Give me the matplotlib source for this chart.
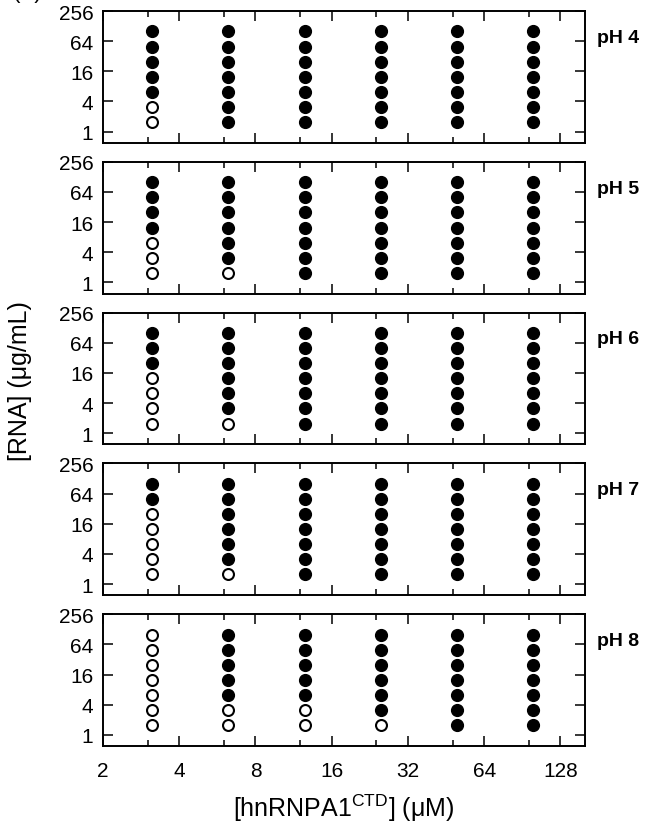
import numpy as np
import matplotlib
matplotlib.use("Agg")
import matplotlib.pyplot as plt
from matplotlib.ticker import FixedLocator, FixedFormatter, NullFormatter

plt.rcParams["font.family"] = ["Liberation Sans", "DejaVu Sans"]
plt.rcParams["mathtext.fontset"] = "custom"
plt.rcParams["mathtext.rm"] = "Liberation Sans"

# ------------------------------------------------------------------
# data: phase diagram, 1 = droplets (filled), 0 = clear (open)
protein = [3.125, 6.25, 12.5, 25, 50, 100]          # uM
rna = [1.5625, 3.125, 6.25, 12.5, 25, 50, 100]      # ug/mL (low -> high)
ph_labels = ["pH 4", "pH 5", "pH 6", "pH 7", "pH 8"]

# each panel: one list per protein column, RNA low -> high
phase_ph4 = [[0, 0, 1, 1, 1, 1, 1], [1] * 7, [1] * 7, [1] * 7, [1] * 7, [1] * 7]
phase_ph5 = [[0, 0, 0, 1, 1, 1, 1], [0, 1, 1, 1, 1, 1, 1], [1] * 7, [1] * 7, [1] * 7, [1] * 7]
phase_ph6 = [[0, 0, 0, 0, 1, 1, 1], [0, 1, 1, 1, 1, 1, 1], [1] * 7, [1] * 7, [1] * 7, [1] * 7]
phase_ph7 = [[0, 0, 0, 0, 0, 1, 1], [0, 1, 1, 1, 1, 1, 1], [1] * 7, [1] * 7, [1] * 7, [1] * 7]
phase_ph8 = [[0] * 7, [0, 0, 1, 1, 1, 1, 1], [0, 0, 1, 1, 1, 1, 1],
             [0, 1, 1, 1, 1, 1, 1], [1] * 7, [1] * 7]
phases = [phase_ph4, phase_ph5, phase_ph6, phase_ph7, phase_ph8]

x_major = [2, 4, 8, 16, 32, 64, 128]
x_minor = [3, 6, 12, 24, 48, 96]
y_major = [1, 4, 16, 64, 256]
# ------------------------------------------------------------------

fig, axes = plt.subplots(5, 1, figsize=(6.54, 8.28), dpi=100, sharex=True)
fig.subplots_adjust(left=0.1575, right=0.8945, top=0.9855, bottom=0.0978, hspace=0.145)

for ax, phase, lab in zip(axes, phases, ph_labels):
    for xi, col in zip(protein, phase):
        col = np.array(col)
        y = np.array(rna)
        ax.scatter([xi] * int((col == 1).sum()), y[col == 1], s=72,
                   c="black", edgecolors="black", linewidths=1.0, zorder=3)
        ax.scatter([xi] * int((col == 0).sum()), y[col == 0], s=62,
                   facecolors="white", edgecolors="black", linewidths=1.5, zorder=3)

    ax.set_xscale("log", base=2)
    ax.set_yscale("log", base=2)
    ax.set_xlim(2, 160)
    ax.set_ylim(0.6, 256)

    ax.xaxis.set_major_locator(FixedLocator(x_major))
    ax.xaxis.set_major_formatter(FixedFormatter([str(v) for v in x_major]))
    ax.xaxis.set_minor_locator(FixedLocator(x_minor))
    ax.xaxis.set_minor_formatter(NullFormatter())
    ax.yaxis.set_major_locator(FixedLocator(y_major))
    ax.yaxis.set_major_formatter(FixedFormatter([str(v) for v in y_major]))
    ax.yaxis.set_minor_locator(FixedLocator([]))

    ax.tick_params(which="major", direction="in", length=7, width=1.1,
                   top=True, right=True, labelsize=15, pad=7)
    ax.tick_params(which="minor", direction="in", length=4.5, width=1.1,
                   top=True, right=True)
    ax.tick_params(axis="x", which="major", pad=11)
    for sp in ax.spines.values():
        sp.set_linewidth(1.4)

    ax.text(1.025, 0.8, lab, transform=ax.transAxes, ha="left", va="center",
            fontsize=14, fontweight="bold")

for ax in axes[:-1]:
    ax.tick_params(axis="x", labelbottom=False)

fig.text(0.03, 0.54, "[RNA] (\u03bcg/mL)", rotation=90, ha="center", va="center",
         fontsize=18)
fig.text(0.526, 0.024, "[hnRNPA1$^{\\mathrm{CTD}}$] (\u03bcM)", ha="center", va="center",
         fontsize=18)
fig.text(0.02, 0.996, "(A)", ha="left", va="bottom", fontsize=16)

fig.savefig("out.png", dpi=100)
